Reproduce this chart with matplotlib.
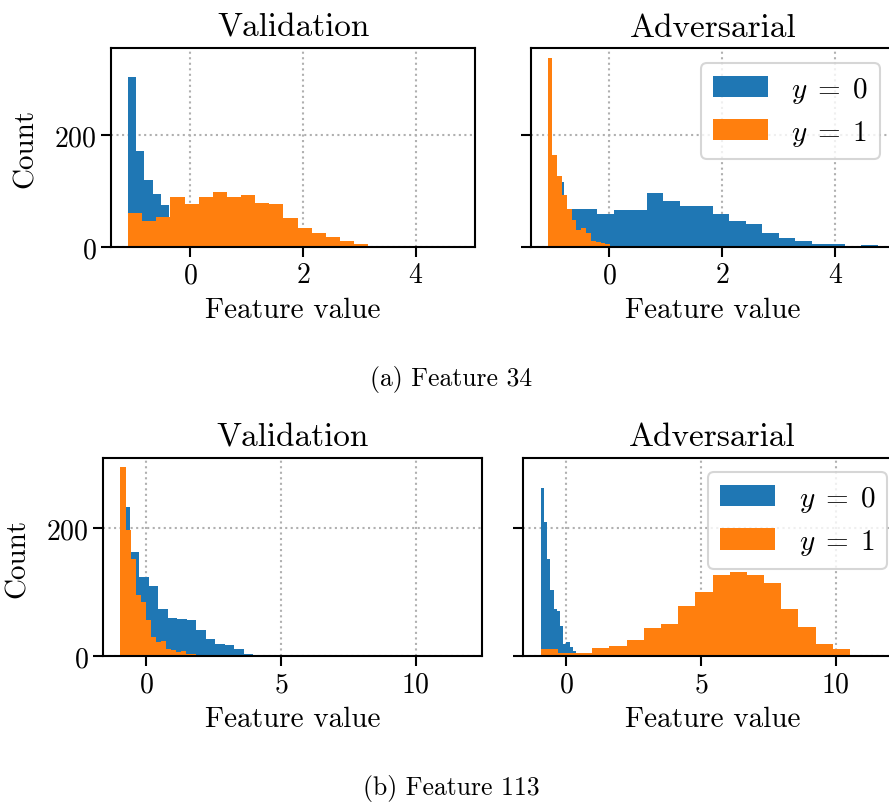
import numpy as np
import matplotlib.pyplot as plt

plt.rcParams['font.family'] = 'cmr10'
plt.rcParams['mathtext.fontset'] = 'cm'
plt.rcParams['axes.formatter.use_mathtext'] = True

# histogram counts per bin; bins given as (first edge, bin width)
# feature 34
val34_y0 = [304, 172, 120, 95, 75, 52, 50, 48, 45, 42, 40, 38, 35, 33, 30, 28, 25, 23,
            20, 18, 15, 13, 11, 9, 7, 6, 4, 3, 3, 2, 1, 1, 1, 0, 1, 0, 0, 1, 0, 1]
val34_y0_bins = (-1.098, 0.1461)
val34_y1 = [61, 46, 54, 90, 77, 90, 99, 90, 93, 79, 77, 52, 34, 26, 18, 11, 6, 2, 1]
val34_y1_bins = (-1.098, 0.2504)
adv34_y0 = [116, 69, 69, 60, 67, 67, 96, 83, 74, 73, 60, 46, 42, 26, 17, 12, 5, 5, 0, 4]
adv34_y0_bins = (-1.097, 0.2928)
adv34_y1 = [338, 164, 127, 93, 68, 48, 30, 34, 25, 12, 10, 8, 5, 2, 2, 1, 2, 2]
adv34_y1_bins = (-1.097, 0.0853)

# feature 113
val113_y0 = [233, 163, 124, 110, 74, 60, 58, 57, 41, 27, 19, 18, 11, 4, 2, 2]
val113_y0_bins = (-0.96, 0.352)
val113_y1 = [295, 197, 152, 96, 85, 57, 30, 22, 24, 11, 10, 7, 8, 4, 4, 2, 1, 1]
val113_y1_bins = (-0.96, 0.188)
adv113_y0 = [262, 209, 151, 104, 73, 70, 47, 19, 22, 15, 8]
adv113_y0_bins = (-0.954, 0.12)
adv113_y1 = [11, 5, 5, 13, 16, 25, 44, 51, 79, 100, 127, 132, 127, 114, 74, 46, 19, 11, 2, 1]
adv113_y1_bins = (-0.954, 0.638)

xticks34 = [0, 2, 4]
xticks113 = [0, 5, 10]
yticks = [0, 200]
labels = ['$y\\;=\\;0$', '$y\\;=\\;1$']


def hist(ax, counts, bins, color, label):
    start, width = bins
    edges = start + width * np.arange(len(counts) + 1)
    ax.hist(edges[:-1], bins=edges, weights=counts, color=color, label=label)


def panel(ax, y0, y0_bins, y1, y1_bins, title, xticks, left, legend):
    hist(ax, y0, y0_bins, '#1f77b4', labels[0])
    hist(ax, y1, y1_bins, '#ff7f0e', labels[1])
    ax.set_title(title, fontsize=24, pad=9)
    ax.set_xticks(xticks)
    ax.set_yticks(yticks)
    ax.set_xlabel('Feature value', fontsize=21, labelpad=6)
    ax.set_axisbelow(True)
    ax.grid(True, ls=':', lw=1.5, color='#b0b0b0')
    ax.tick_params(labelsize=20, length=7, width=1.5)
    for s in ax.spines.values():
        s.set_linewidth(1.5)
    if left:
        ax.set_ylabel('Count', fontsize=21, labelpad=11)
    else:
        ax.tick_params(labelleft=False)
    if legend:
        leg = ax.legend(fontsize=21, handlelength=1.9, handleheight=0.75,
                        labelspacing=0.45, borderaxespad=0.5,
                        loc='upper right', fancybox=True)
        leg.get_frame().set_linewidth(1.5)


fig = plt.figure(figsize=(8.89, 8.04), dpi=100)

ax1 = fig.add_axes([0.1254, 0.6912, 0.4089, 0.2475])
ax2 = fig.add_axes([0.5973, 0.6912, 0.4089, 0.2475], sharex=ax1, sharey=ax1)
panel(ax1, val34_y0, val34_y0_bins, val34_y1, val34_y1_bins, 'Validation', xticks34, True, False)
panel(ax2, adv34_y0, adv34_y0_bins, adv34_y1, adv34_y1_bins, 'Adversarial', xticks34, False, True)

ax3 = fig.add_axes([0.1162, 0.1825, 0.4256, 0.2470])
ax4 = fig.add_axes([0.5886, 0.1825, 0.4256, 0.2470], sharex=ax3, sharey=ax3)
panel(ax3, val113_y0, val113_y0_bins, val113_y1, val113_y1_bins, 'Validation', xticks113, True, False)
panel(ax4, adv113_y0, adv113_y0_bins, adv113_y1, adv113_y1_bins, 'Adversarial', xticks113, False, True)

fig.text(451 / 889, 1 - 380 / 804, '(a) Feature 34', ha='center', va='center', fontsize=18.5)
fig.text(451 / 889, 1 - 789 / 804, '(b) Feature 113', ha='center', va='center', fontsize=18.5)

fig.savefig('out.png', dpi=100)
